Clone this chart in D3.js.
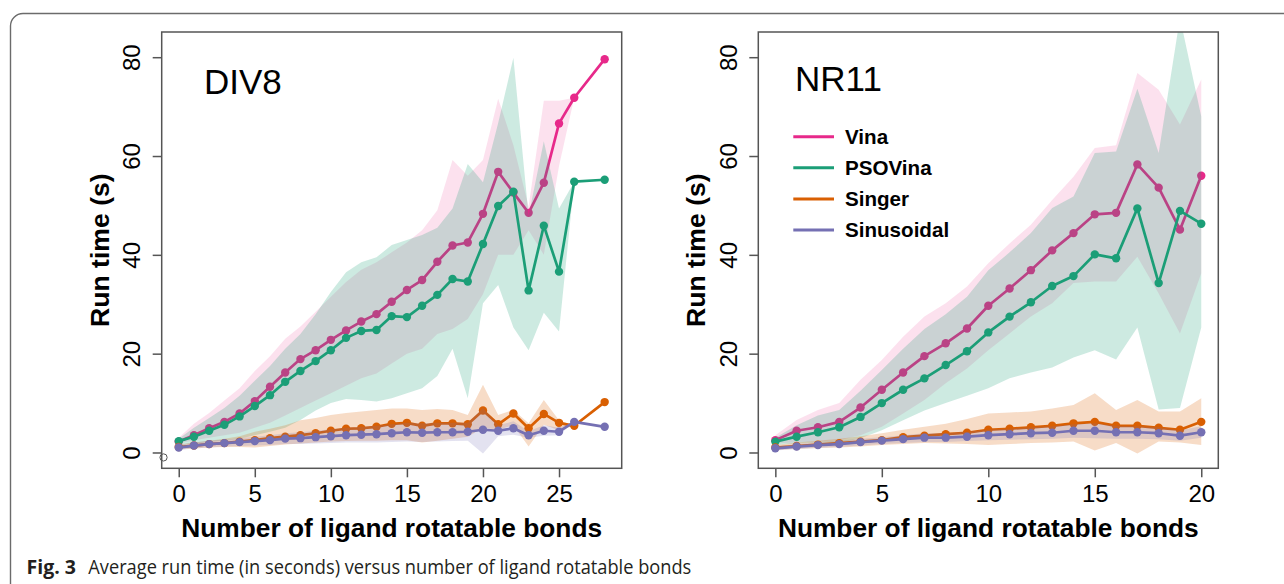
<!DOCTYPE html>
<html>
<head>
<meta charset="utf-8">
<script src="https://cdn.jsdelivr.net/npm/d3@7"></script>
<style>
  body { margin: 0; background: #fff; }
  svg { display: block; }
</style>
</head>
<body>
<div id="chart"></div>
<script>
// ---- data: DIV8 ----
const div8X = [0,1,2,3,4,5,6,7,8,9,10,11,12,13,14,15,16,17,18,19,20,21,22,23,24,25,26,28];
const div8Vina   = [2.2,3.5,4.9,6.2,7.9,10.4,13.3,16.2,18.9,20.7,22.8,24.7,26.5,28.0,30.5,32.9,34.9,38.6,41.9,42.5,48.3,56.8,52.6,48.5,54.6,66.6,71.8,79.6];
const div8VinaLo = [1.8,2.5,3.0,3.5,4.0,5.0,6.0,7.5,9.0,10.5,12.0,13.5,15.0,16.0,18.0,20.0,21.0,24.0,25.0,27.0,32.0,40.0,40.0,45.0,40.0,58.0,71.8,79.6];
const div8VinaHi = [3.0,5.8,8.0,10.5,13.0,16.5,19.5,23.0,25.5,28.5,31.5,34.5,37.0,38.5,40.5,42.5,45.0,49.0,59.2,56.0,59.2,71.6,62.2,49.8,71.2,71.2,71.8,79.6];
const div8Pso    = [2.3,3.2,4.4,5.6,7.3,9.4,11.6,14.3,16.5,18.5,20.7,23.2,24.6,24.8,27.6,27.4,29.7,31.9,35.1,34.6,42.2,49.9,52.8,32.8,45.9,36.6,54.8,55.2];
const div8PsoLo  = [1.5,1.8,2.1,2.5,2.8,3.5,4.2,5.0,6.6,8.5,10.0,10.8,10.6,10.3,11.0,12.0,13.0,15.5,21.0,11.0,30.2,33.9,25.3,20.7,28.3,24.5,54.8,55.2];
const div8PsoHi  = [2.8,5.0,7.0,9.0,11.5,14.5,17.5,21.0,24.0,28.0,32.5,36.5,38.5,39.5,42.0,43.0,44.0,45.5,49.4,58.4,54.7,66.7,79.9,47.9,63.0,49.4,54.8,55.2];
const div8Singer   = [1.1,1.4,1.7,1.9,2.2,2.5,2.9,3.2,3.5,3.9,4.4,4.8,4.9,5.2,5.8,6.0,5.4,5.9,5.9,5.7,8.5,5.7,7.9,4.9,7.8,6.0,5.4,10.2];
const div8SingerLo = [0.6,0.8,1.0,1.1,1.1,1.0,1.3,1.6,1.8,2.0,2.2,2.3,2.4,2.4,2.5,2.5,2.0,2.4,2.8,3.2,5.0,4.6,5.5,1.2,5.6,4.5,5.4,10.2];
const div8SingerHi = [1.6,2.0,2.4,2.8,3.3,4.2,4.8,5.5,6.5,7.0,7.6,8.0,8.3,8.6,8.9,8.9,8.6,8.8,8.6,7.6,13.7,7.6,8.6,5.9,10.6,6.5,5.4,10.2];
const div8Sin   = [1.0,1.4,1.7,1.9,2.1,2.3,2.5,2.8,2.9,3.1,3.3,3.5,3.6,3.7,3.9,4.1,4.0,4.1,4.1,4.2,4.6,4.4,4.9,3.5,4.4,4.2,6.2,5.2];
const div8SinLo = [0.5,0.8,1.0,1.2,1.3,1.4,1.5,1.7,1.7,1.8,1.9,2.0,2.0,2.0,2.1,2.2,2.1,2.2,2.3,2.4,-0.2,3.3,3.6,3.0,3.4,3.5,6.2,5.2];
const div8SinHi = [1.5,2.0,2.4,2.6,2.9,3.2,3.5,3.9,4.1,4.4,4.7,5.0,5.2,5.4,5.7,6.0,5.9,6.0,6.0,6.0,9.0,5.5,6.3,4.3,5.5,5.0,6.2,5.2];
const div8Stray = [-1, -1];   // the lone open circle at the axis corner

// ---- data: NR11 ----
const nr11X = [0,1,2,3,4,5,6,7,8,9,10,11,12,13,14,15,16,17,18,19,20];
const nr11Vina   = [2.5,4.4,5.1,6.2,9.1,12.7,16.2,19.5,22.1,25.1,29.7,33.2,36.9,40.9,44.4,48.2,48.5,58.3,53.6,45.1,56.0];
const nr11VinaLo = [1.8,2.0,2.2,2.5,3.5,5.2,7.9,10.6,14.0,17.0,20.7,24.1,27.5,30.2,34.3,34.6,34.6,39.6,32.2,24.1,36.3];
const nr11VinaHi = [3.5,6.6,8.6,10.0,14.7,18.7,23.4,27.5,30.2,33.6,38.3,42.3,46.1,51.1,55.8,61.6,62.2,76.8,73.4,66.4,75.5];
const nr11Pso    = [2.2,3.2,4.1,5.1,7.2,10.0,12.7,15.0,17.7,20.5,24.3,27.5,30.4,33.7,35.7,40.1,39.3,49.4,34.3,48.9,46.3];
const nr11PsoLo  = [1.5,1.8,2.0,1.9,2.9,4.5,6.5,8.5,10.0,11.5,13.0,15.0,16.2,17.2,19.2,20.7,18.8,25.3,8.7,9.0,25.3];
const nr11PsoHi  = [3.0,5.5,7.5,8.6,12.5,16.7,21.0,25.0,28.0,31.5,36.9,40.5,44.4,49.5,51.8,60.6,60.9,73.6,60.6,88.0,68.0];
const nr11Singer   = [1.0,1.3,1.6,1.9,2.2,2.5,3.1,3.4,3.7,4.0,4.6,4.8,5.1,5.4,5.9,6.2,5.4,5.4,5.0,4.6,6.2];
const nr11SingerLo = [0.5,0.7,0.9,1.0,1.2,1.5,1.7,1.9,1.8,1.7,1.5,1.7,1.9,2.0,2.2,0.4,1.9,-0.2,2.2,2.0,1.5];
const nr11SingerHi = [1.5,2.0,2.4,2.8,3.3,3.9,4.6,5.2,5.8,6.8,7.9,8.1,8.3,8.9,9.6,12.0,8.6,10.6,8.3,8.3,11.0];
const nr11Sin   = [0.85,1.2,1.5,1.7,2.1,2.4,2.7,3.0,3.0,3.2,3.5,3.7,3.9,4.0,4.4,4.4,4.1,4.1,3.9,3.4,4.1];
const nr11SinLo = [0.4,0.7,0.9,1.1,1.4,1.7,1.9,2.1,2.1,2.3,2.5,2.6,2.7,2.8,3.0,2.9,2.8,2.8,2.7,2.4,3.0];
const nr11SinHi = [1.3,1.7,2.1,2.4,2.8,3.1,3.5,3.9,3.9,4.2,4.6,4.8,5.1,5.3,5.7,5.9,5.4,5.3,5.1,4.5,5.3];

const methodNames  = ["Vina", "PSOVina", "Singer", "Sinusoidal"];
const methodColors = ["#e7298a", "#1b9e77", "#d95f02", "#7570b3"];
const bandOpacity  = [0.14, 0.22, 0.22, 0.2];
const yTicks = [0, 20, 40, 60, 80];
const div8XTicks = [0, 5, 10, 15, 20, 25];
const nr11XTicks = [0, 5, 10, 15, 20];
const captionLabel = "Fig. 3";
const captionText = "Average run time (in seconds) versus number of ligand rotatable bonds";

const W = 1284, H = 584;
const AXIS_FONT = "'Liberation Sans', Arial, Helvetica, sans-serif";

const svg = d3.select("#chart").append("svg")
    .attr("width", W)
    .attr("height", H);

// outer frame (only top + left edge are inside the picture)
svg.append("path")
    .attr("d", "M10.5,584 V26 A12.5,12.5 0 0 1 23,13.5 H1284")
    .attr("fill", "none")
    .attr("stroke", "#6b6b6b")
    .attr("stroke-width", 1.4);

const plotTop = 32, plotBottom = 468.3;

function rows(xs, mean, lo, hi) {
    return xs.map((x, i) => ({ x, v: mean[i], lo: lo[i], hi: hi[i] }));
}

const panels = [
    {
        id: "div8", title: "DIV8", left: 161.7, right: 621.7,
        xDomain: [-1.12, 29.12], xTicks: div8XTicks,
        label: { x: 204, y: 94 },
        series: [
            rows(div8X, div8Vina, div8VinaLo, div8VinaHi),
            rows(div8X, div8Pso, div8PsoLo, div8PsoHi),
            rows(div8X, div8Singer, div8SingerLo, div8SingerHi),
            rows(div8X, div8Sin, div8SinLo, div8SinHi),
        ],
        stray: div8Stray,
        legend: false,
    },
    {
        id: "nr11", title: "NR11", left: 758.3, right: 1218.3,
        xDomain: [-0.8, 20.8], xTicks: nr11XTicks,
        label: { x: 795, y: 91 },
        series: [
            rows(nr11X, nr11Vina, nr11VinaLo, nr11VinaHi),
            rows(nr11X, nr11Pso, nr11PsoLo, nr11PsoHi),
            rows(nr11X, nr11Singer, nr11SingerLo, nr11SingerHi),
            rows(nr11X, nr11Sin, nr11SinLo, nr11SinHi),
        ],
        stray: null,
        legend: true,
    },
];

panels.forEach((p) => {
    const x = d3.scaleLinear().domain(p.xDomain).range([p.left, p.right]);
    const y = d3.scaleLinear().domain([-3.2, 85.1]).range([plotBottom, plotTop]);

    const g = svg.append("g");

    g.append("clipPath").attr("id", "clip-" + p.id)
        .append("rect")
        .attr("x", p.left).attr("y", plotTop)
        .attr("width", p.right - p.left).attr("height", plotBottom - plotTop);

    const area = d3.area()
        .x(d => x(d.x))
        .y0(d => y(d.lo))
        .y1(d => y(d.hi));
    const line = d3.line()
        .x(d => x(d.x))
        .y(d => y(d.v));

    // band, then line and points, series after series
    p.series.forEach((data, i) => {
        const col = methodColors[i];
        g.append("path")
            .datum(data)
            .attr("clip-path", `url(#clip-${p.id})`)
            .attr("fill", col)
            .attr("fill-opacity", bandOpacity[i])
            .attr("d", area);
        g.append("path")
            .datum(data)
            .attr("fill", "none")
            .attr("stroke", col)
            .attr("stroke-width", 2.7)
            .attr("stroke-linejoin", "round")
            .attr("d", line);
        g.append("g")
            .selectAll("circle")
            .data(data)
            .enter()
            .append("circle")
            .attr("cx", d => x(d.x))
            .attr("cy", d => y(d.v))
            .attr("r", 4.2)
            .attr("fill", col);
    });

    if (p.stray) {
        g.append("circle")
            .attr("cx", x(p.stray[0]))
            .attr("cy", y(p.stray[1]))
            .attr("r", 3.6)
            .attr("fill", "none")
            .attr("stroke", "#555")
            .attr("stroke-width", 1);
    }

    // box
    g.append("rect")
        .attr("x", p.left).attr("y", plotTop)
        .attr("width", p.right - p.left).attr("height", plotBottom - plotTop)
        .attr("fill", "none")
        .attr("stroke", "#555")
        .attr("stroke-width", 1.5);

    // x axis
    const xa = g.append("g")
        .attr("transform", `translate(0,${plotBottom})`)
        .call(d3.axisBottom(x).tickValues(p.xTicks).tickSize(9).tickFormat(d3.format("d")));
    xa.select(".domain").remove();
    xa.selectAll(".tick line").attr("stroke", "#555").attr("stroke-width", 1.5);
    xa.selectAll(".tick text")
        .attr("y", 33.3)
        .attr("dy", 0)
        .attr("fill", "#000")
        .style("font-family", AXIS_FONT)
        .style("font-size", "24px");

    // y axis, labels turned like R's default
    const ya = g.append("g")
        .attr("transform", `translate(${p.left},0)`)
        .call(d3.axisLeft(y).tickValues(yTicks).tickSize(9));
    ya.select(".domain").remove();
    ya.selectAll(".tick line").attr("stroke", "#555").attr("stroke-width", 1.5);
    ya.selectAll(".tick text")
        .attr("transform", "rotate(-90)")
        .attr("x", 0)
        .attr("y", -21.5)
        .attr("dy", 0)
        .attr("text-anchor", "middle")
        .attr("fill", "#000")
        .style("font-family", AXIS_FONT)
        .style("font-size", "24px");

    // axis titles
    g.append("text")
        .attr("x", (p.left + p.right) / 2)
        .attr("y", 537)
        .attr("text-anchor", "middle")
        .style("font-family", AXIS_FONT)
        .style("font-weight", "bold")
        .style("font-size", "26.3px")
        .text("Number of ligand rotatable bonds");

    g.append("text")
        .attr("transform", `translate(${p.left - 53},${(plotTop + plotBottom) / 2}) rotate(-90)`)
        .attr("text-anchor", "middle")
        .style("font-family", AXIS_FONT)
        .style("font-weight", "bold")
        .style("font-size", "26.6px")
        .text("Run time (s)");

    // panel name
    g.append("text")
        .attr("x", p.label.x)
        .attr("y", p.label.y)
        .style("font-family", AXIS_FONT)
        .style("font-size", "35px")
        .text(p.title);

    if (p.legend) {
        const leg = g.append("g");
        methodNames.forEach((name, i) => {
            const ly = 136.7 + i * 31.1;
            leg.append("line")
                .attr("x1", 793.3).attr("x2", 834)
                .attr("y1", ly).attr("y2", ly)
                .attr("stroke", methodColors[i])
                .attr("stroke-width", 3);
            leg.append("text")
                .attr("x", 845)
                .attr("y", ly + 7.3)
                .style("font-family", AXIS_FONT)
                .style("font-weight", "bold")
                .style("font-size", "20.6px")
                .text(name);
        });
    }
});

// caption
const cap = svg.append("g")
    .style("font-family", "'Open Sans', 'Noto Sans', sans-serif")
    .style("font-size", "19.5px")
    .attr("fill", "#231f20");
cap.append("text")
    .attr("x", 26.5)
    .attr("y", 574)
    .style("font-weight", "bold")
    .attr("textLength", 49.5)
    .attr("lengthAdjust", "spacingAndGlyphs")
    .text(captionLabel);
cap.append("text")
    .attr("x", 88.3)
    .attr("y", 574)
    .attr("textLength", 603)
    .attr("lengthAdjust", "spacingAndGlyphs")
    .text(captionText);
</script>
</body>
</html>
